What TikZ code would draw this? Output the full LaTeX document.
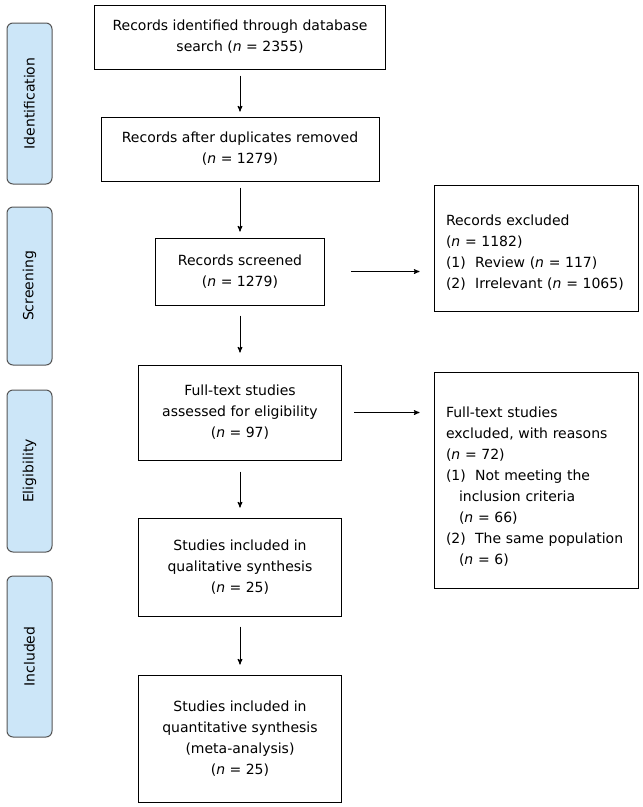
\documentclass[tikz,border=0pt]{standalone}
\usepackage{fontspec}
\setmainfont{DejaVu Sans}
\usepackage{xcolor}
\usetikzlibrary{arrows,positioning}
\definecolor{stagefill}{RGB}{204,230,248}
\definecolor{stagedraw}{RGB}{85,85,85}

\begin{document}
\begin{tikzpicture}[
    x=1pt, y=-1pt,
    >=stealth',
    font=\fontsize{14}{21}\selectfont,
    block/.style={
		rectangle,
		draw=black,
		line width=1pt,
		text centered,
		inner sep=0pt,
		fill=white
	},
	excluded/.style={
		block,
		align=left,
		text width=180pt,
		inner xsep=12pt
	},
	stage/.style={
		rectangle,
		rounded corners=6pt,
		draw=stagedraw,
		fill=stagefill,
		line width=1pt,
		rotate=90,
		minimum height=45pt
	},
	flow/.style={
		draw,
		line width=1pt,
		->
	}
  ]
  \useasboundingbox (0,0) rectangle (643,807);

  % stages on the left
  \node [stage, minimum width=161pt] (identification) at (29.5,103.5) {Identification};
  \node [stage, minimum width=158pt] (screening) at (29.5,286) {Screening};
  \node [stage, minimum width=162pt] (eligibility) at (29.5,471) {Eligibility};
  \node [stage, minimum width=161pt] (included) at (29.5,656.5) {Included};

  % We start by placing the blocks
  \node [block, minimum width=291pt, minimum height=64pt] (records) at (240,37)
 {%
 \begin{tabular}{c}
  Records identified through database\\
  search (\textit{n} = 2355)
 \end{tabular}
 };

  \node [block, minimum width=278pt, minimum height=64pt] (dedup) at (240,149)
 {%
 \begin{tabular}{c}
  Records after duplicates removed\\
  (\textit{n} = 1279)
 \end{tabular}
 };

  \node [block, minimum width=169pt, minimum height=67pt] (screened) at (240,271.5)
 {%
 \begin{tabular}{c}
  Records screened\\
  (\textit{n} = 1279)
 \end{tabular}
 };

  \node [block, minimum width=203pt, minimum height=95pt] (fulltext) at (240,412.5)
 {%
 \begin{tabular}{c}
  Full-text studies\\
  assessed for eligibility\\
  (\textit{n} = 97)
 \end{tabular}
 };

  \node [block, minimum width=203pt, minimum height=98pt] (qualitative) at (240,567)
 {%
 \begin{tabular}{c}
  Studies included in\\
  qualitative synthesis\\
  (\textit{n} = 25)
 \end{tabular}
 };

  \node [block, minimum width=203pt, minimum height=127pt] (quantitative) at (240,738.5)
 {%
 \begin{tabular}{c}
  Studies included in\\
  quantitative synthesis\\
  (meta-analysis)\\
  (\textit{n} = 25)
 \end{tabular}
 };

  % exclusion boxes on the right
  \node [excluded, minimum height=126pt] (excluded1) at (536,248)
 {%
 \vspace*{8pt}
 \begin{tabular}{@{}l@{}}
  Records excluded\\
  (\textit{n} = 1182)\\
  (1)~~Review (\textit{n} = 117)\\
  (2)~~Irrelevant (\textit{n} = 1065)
 \end{tabular}
 };

  \node [excluded, minimum height=216pt] (excluded2) at (536,480)
 {%
 \vspace*{13pt}
 \begin{tabular}{@{}l@{}}
  Full-text studies\\
  excluded, with reasons\\
  (\textit{n} = 72)\\
  (1)~~Not meeting the\\
  \hspace*{13pt}inclusion criteria\\
  \hspace*{13pt}(\textit{n} = 66)\\
  (2)~~The same population\\
  \hspace*{13pt}(\textit{n} = 6)
 \end{tabular}
 };

 \draw [flow, shorten <=6pt, shorten >=5pt] (records) -- (dedup);
 \draw [flow, shorten <=6pt, shorten >=6pt] (dedup) -- (screened);
 \draw [flow, shorten <=10pt, shorten >=12pt] (screened) -- (fulltext);
 \draw [flow, shorten <=11pt, shorten >=10pt] (fulltext) -- (qualitative);
 \draw [flow, shorten <=10pt, shorten >=10pt] (qualitative) -- (quantitative);
 \draw [flow, shorten <=26pt, shorten >=14pt] (screened) -- (screened -| excluded1.west);
 \draw [flow, shorten <=12pt, shorten >=14pt] (fulltext) -- (fulltext -| excluded2.west);

\end{tikzpicture}
\end{document}
